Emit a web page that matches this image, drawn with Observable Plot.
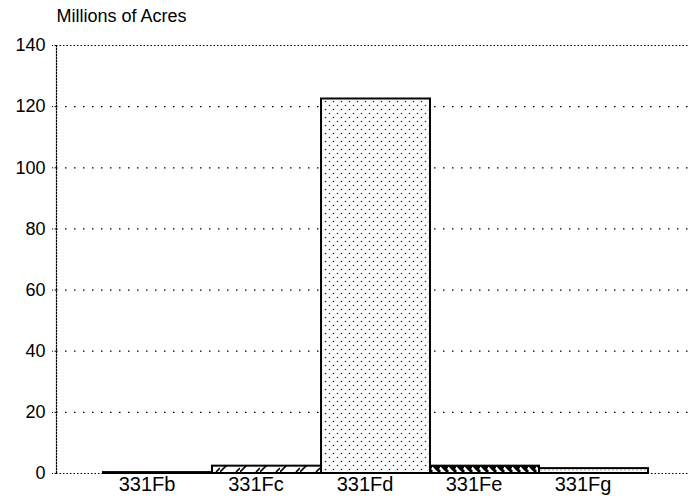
<!DOCTYPE html>
<html>
<head>
<meta charset="utf-8">
<script src="https://cdn.jsdelivr.net/npm/d3@7"></script>
<script src="https://cdn.jsdelivr.net/npm/@observablehq/plot@0.6"></script>
<style>
  html, body { margin: 0; padding: 0; background: #fff; }
  #chart { position: relative; width: 689px; height: 502px; }
</style>
</head>
<body>
<div id="chart"></div>
<script>
const categories = ["331Fb", "331Fc", "331Fd", "331Fe", "331Fg"];
const values = [0.3, 2.4, 122.5, 2.4, 1.6];
const patterns = ["solidfill", "hatchwide", "stipple", "hatchdense", "dotlight"];
const yTicks = [0, 20, 40, 60, 80, 100, 120, 140];
const innerTicks = [20, 40, 60, 80, 100, 120];
const edgeTicks = [0, 140];
const title = "Millions of Acres";

const data = categories.map((c, i) => ({cat: c, val: values[i], pat: patterns[i]}));

const font = "'Liberation Sans', Arial, Helvetica, sans-serif";

const plot = Plot.plot({
  width: 689,
  height: 502,
  marginLeft: 56,
  marginRight: 0,
  marginTop: 45,
  marginBottom: 29,
  style: {fontFamily: font, fontSize: "18px", background: "white", color: "black"},
  x: {domain: categories, range: [102, 649], padding: 0, axis: null},
  y: {domain: [0, 140], axis: null},
  marks: [
    Plot.gridY(innerTicks, {stroke: "black", strokeOpacity: 1, strokeWidth: 1.3, strokeDasharray: "1.5,7.5"}),
    Plot.gridY(edgeTicks, {stroke: "black", strokeOpacity: 1, strokeWidth: 1.2, strokeDasharray: "1.5,2"}),
    Plot.frame({anchor: "left", stroke: "black", strokeWidth: 1.2, strokeDasharray: "1.5,1.5"}),
    Plot.axisY(yTicks, {tickSize: 4, tickPadding: 7, fontSize: 18, strokeDasharray: "1.5,1.5", label: null}),
    Plot.barY(data, {x: "cat", y: "val", fill: d => `url(#${d.pat})`, stroke: "black", strokeWidth: 2, inset: 0}),
    Plot.axisX(categories, {tickSize: 0, tickPadding: 3, fontSize: 20, dx: -11, label: null}),
    Plot.text([title], {frameAnchor: "top-left", lineAnchor: "bottom", dy: -24, dx: 0, fontSize: 18, textAnchor: "start"})
  ]
});

// Pattern definitions
const svg = d3.select(plot);
const defs = svg.insert("defs", ":first-child");

defs.append("pattern").attr("id", "solidfill").attr("patternUnits", "userSpaceOnUse")
  .attr("width", 4).attr("height", 4)
  .append("rect").attr("width", 4).attr("height", 4).attr("fill", "black");

const pw = defs.append("pattern").attr("id", "hatchwide").attr("patternUnits", "userSpaceOnUse")
  .attr("width", 20).attr("height", 8);
pw.append("rect").attr("width", 20).attr("height", 8).attr("fill", "white");
pw.append("path").attr("d", "M0,8 L8,0 M-4,4 L0,0 M16,8 L20,4").attr("stroke", "black").attr("stroke-width", 1.6);

const ps = defs.append("pattern").attr("id", "stipple").attr("patternUnits", "userSpaceOnUse")
  .attr("width", 8).attr("height", 8);
ps.append("rect").attr("width", 8).attr("height", 8).attr("fill", "white");
ps.append("circle").attr("cx", 1.5).attr("cy", 1.5).attr("r", 0.8).attr("fill", "#222");
ps.append("circle").attr("cx", 5.5).attr("cy", 5.5).attr("r", 0.8).attr("fill", "#222");
ps.append("circle").attr("cx", 3.5).attr("cy", 6.5).attr("r", 0.4).attr("fill", "#aaa");
ps.append("circle").attr("cx", 6.5).attr("cy", 2.5).attr("r", 0.4).attr("fill", "#bbb");

const pd = defs.append("pattern").attr("id", "hatchdense").attr("patternUnits", "userSpaceOnUse")
  .attr("width", 8).attr("height", 8);
pd.append("rect").attr("width", 8).attr("height", 8).attr("fill", "white");
pd.append("path").attr("d", "M0,0 L8,8 M-4,4 L0,8 M4,0 L8,4").attr("stroke", "black").attr("stroke-width", 3);

const pl = defs.append("pattern").attr("id", "dotlight").attr("patternUnits", "userSpaceOnUse")
  .attr("width", 4).attr("height", 4);
pl.append("rect").attr("width", 4).attr("height", 4).attr("fill", "white");
pl.append("circle").attr("cx", 1).attr("cy", 2).attr("r", 0.6).attr("fill", "#555");

document.getElementById("chart").appendChild(plot);
</script>
</body>
</html>
